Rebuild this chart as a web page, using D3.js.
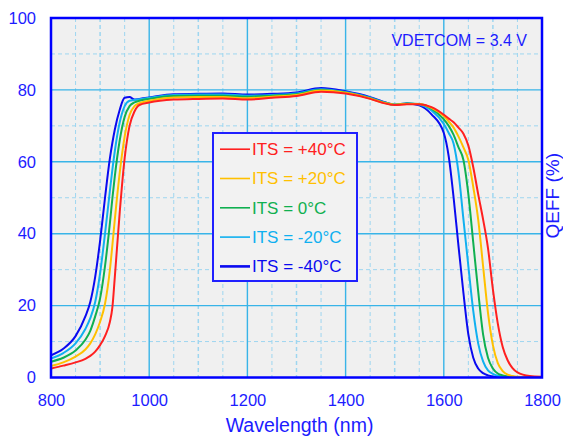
<!DOCTYPE html>
<html><head><meta charset="utf-8">
<script src="https://cdn.jsdelivr.net/npm/d3@7"></script>
<style>
body{margin:0;background:#fff}
svg{display:block}
text{font-family:"Liberation Sans",Arial,Helvetica,sans-serif}
</style>
</head><body>
<svg id="chart" width="563" height="437"></svg>
<script>
// ---- data ----
const wavelengths = [800, 825, 850, 870, 880, 890, 900, 910, 920, 925, 930, 940, 950, 960, 970, 980,
  1000, 1050, 1100, 1150, 1200, 1250, 1300, 1350, 1400, 1450, 1475, 1500, 1525,
  1550, 1575, 1600, 1610, 1620, 1630, 1640, 1650, 1660, 1670, 1680, 1690, 1700, 1710, 1720, 1730, 1740, 1750, 1775, 1800];

const itsM40 = [6.2, 8.0, 11.5, 17, 21, 28, 38, 50, 61, 65.3, 69, 74.5, 77.8, 78.0, 77.3, 77.5,
  77.9, 78.8, 78.9, 79.0, 78.7, 78.9, 79.3, 80.5, 79.6, 78.0, 76.8, 75.9, 76.2,
  75.7, 73.2, 68, 61.5, 50, 36.5, 23.5, 12, 5.5, 2.5, 1.2, 0.6, 0.3, 0.2, 0.1, 0.1, 0.1, 0.1, 0.1, 0.1];
const itsM20 = [5.3, 6.8, 9.5, 13.5, 16.5, 21, 29, 40, 52, 57.8, 63, 71, 75.5, 77.0, 77.2, 77.4,
  77.8, 78.6, 78.7, 78.7, 78.4, 78.6, 79.0, 80.2, 79.4, 77.8, 76.7, 75.9, 76.2,
  75.9, 74.3, 70.5, 68, 65, 57, 44, 31, 18.5, 9.5, 4.5, 2, 1, 0.5, 0.3, 0.2, 0.1, 0.1, 0.1, 0.1];
const its0 = [4.4, 5.5, 7.5, 10.5, 13, 17, 22, 31, 43, 49.8, 56, 66, 72.5, 75.5, 76.5, 77.0,
  77.5, 78.3, 78.4, 78.4, 78.1, 78.4, 78.8, 80.0, 79.3, 77.7, 76.6, 75.9, 76.2,
  76.1, 74.8, 71.8, 70, 67.5, 64, 60.5, 51, 37.5, 24, 12, 5.5, 2.5, 1.1, 0.6, 0.3, 0.2, 0.1, 0.1, 0.1];
const itsP20 = [3.2, 4.2, 5.8, 7.8, 9.5, 12, 15.5, 20.5, 30, 36.8, 44, 57, 67, 73, 75.5, 76.3,
  77.0, 77.9, 78.0, 78.0, 77.7, 78.1, 78.6, 79.8, 79.2, 77.6, 76.5, 75.9, 76.1,
  76.1, 75.0, 72.7, 71.2, 69.5, 67, 64, 60.5, 53, 44, 31, 18, 9, 4, 1.8, 0.8, 0.4, 0.2, 0.1, 0.1];
const itsP40 = [2.5, 3.3, 4.2, 5.2, 6.0, 7.2, 9.0, 11.5, 15.5, 19.5, 28, 46, 61, 70, 74, 75.8,
  76.5, 77.3, 77.5, 77.6, 77.3, 77.8, 78.3, 79.5, 79.0, 77.5, 76.4, 75.8, 76.0,
  76.0, 75.2, 73.1, 72, 71, 69.5, 67.8, 64.5, 58.5, 51, 44, 36, 24.5, 15, 8.5, 4.8, 2.6, 1.4, 0.4, 0.2];

const seriesNames = ["ITS = +40°C", "ITS = +20°C", "ITS = 0°C", "ITS = -20°C", "ITS = -40°C"];
const seriesColors = ["#ff2020", "#ffc000", "#10b050", "#10b0f0", "#0a0af0"];
const seriesValues = [itsP40, itsP20, its0, itsM20, itsM40];

const xTicks = [800, 1000, 1200, 1400, 1600, 1800];
const yTicks = [0, 20, 40, 60, 80, 100];
const xMinor = [850, 900, 950, 1050, 1100, 1150, 1250, 1300, 1350, 1450, 1500, 1550, 1650, 1700, 1750];
const yMinor = [10, 30, 50, 70, 90];
const xLabel = "Wavelength (nm)";
const yLabel = "QEFF (%)";
const annotation = "VDETCOM = 3.4 V";

// ---- layout ----
const svg = d3.select("#chart");
const L = 51, R = 542, T = 18, B = 377.5;
const x = d3.scaleLinear().domain([800, 1800]).range([L, R]);
const y = d3.scaleLinear().domain([0, 100]).range([B, T]);
const axisBlue = "#0000ff";
const textBlue = "#1c1cff";

svg.append("rect").attr("x", L).attr("y", T).attr("width", R - L).attr("height", B - T).attr("fill", "#f0f0f0");

const grid = svg.append("g");
// minor dashed
grid.selectAll("line.xm").data(xMinor).enter().append("line")
  .attr("x1", d => x(d)).attr("x2", d => x(d)).attr("y1", T).attr("y2", B)
  .attr("stroke", "#9ed6f0").attr("stroke-width", d => d % 100 === 0 ? 1.5 : 1)
  .attr("stroke-dasharray", "4,3");
grid.selectAll("line.ym").data(yMinor).enter().append("line")
  .attr("x1", L).attr("x2", R).attr("y1", d => y(d)).attr("y2", d => y(d))
  .attr("stroke", "#9ed6f0").attr("stroke-width", 1).attr("stroke-dasharray", "4,3");
// major solid
grid.selectAll("line.xM").data(xTicks.slice(1, -1)).enter().append("line")
  .attr("x1", d => x(d)).attr("x2", d => x(d)).attr("y1", T).attr("y2", B)
  .attr("stroke", "#38b4e8").attr("stroke-width", 1.4);
grid.selectAll("line.yM").data(yTicks.slice(1, -1)).enter().append("line")
  .attr("x1", L).attr("x2", R).attr("y1", d => y(d)).attr("y2", d => y(d))
  .attr("stroke", "#38b4e8").attr("stroke-width", 1.4);

// curves
svg.append("clipPath").attr("id", "clip").append("rect")
  .attr("x", L).attr("y", T).attr("width", R - L).attr("height", B - T);
const line = d3.line().x(d => x(d[0])).y(d => y(d[1])).curve(d3.curveMonotoneX);
const curves = svg.append("g").attr("clip-path", "url(#clip)");
for (let i = seriesValues.length - 1; i >= 0; i--) {
  const pts = wavelengths.map((w, j) => [w, seriesValues[i][j]]);
  curves.append("path").attr("d", line(pts)).attr("fill", "none")
    .attr("stroke", seriesColors[i]).attr("stroke-width", 2).attr("stroke-linejoin", "round");
}

// frame
svg.append("rect").attr("x", L).attr("y", T).attr("width", R - L).attr("height", B - T)
  .attr("fill", "none").attr("stroke", axisBlue).attr("stroke-width", 2.5);

// axes
const xAxis = svg.append("g").attr("transform", `translate(0,${B})`)
  .call(d3.axisBottom(x).tickValues(xTicks).tickSize(0).tickPadding(17).tickFormat(d3.format("d")));
xAxis.select(".domain").remove();
xAxis.selectAll("text").attr("fill", textBlue).attr("font-size", "16.5px")
  .attr("font-family", '"Liberation Sans",Arial,sans-serif');

const yAxis = svg.append("g").attr("transform", `translate(${L},0)`)
  .call(d3.axisLeft(y).tickValues(yTicks).tickSize(0).tickPadding(15).tickFormat(d3.format("d")));
yAxis.select(".domain").remove();
yAxis.selectAll("text").attr("fill", textBlue).attr("font-size", "16.5px")
  .attr("font-family", '"Liberation Sans",Arial,sans-serif');

svg.append("text").attr("x", (L + R) / 2 + 3).attr("y", 432).attr("text-anchor", "middle")
  .attr("fill", textBlue).attr("font-size", "19.5px").text(xLabel);
svg.append("text").attr("transform", `translate(558.5,${(T + B) / 2 - 2}) rotate(-90)`)
  .attr("text-anchor", "middle").attr("fill", textBlue).attr("font-size", "19px").text(yLabel);

svg.append("text").attr("x", 527).attr("y", 46).attr("text-anchor", "end")
  .attr("fill", textBlue).attr("font-size", "16px").text(annotation);

// legend
const lg = svg.append("g");
lg.append("rect").attr("x", 213).attr("y", 133).attr("width", 144).attr("height", 148)
  .attr("fill", "#f2f2f2").attr("stroke", "#2020ff").attr("stroke-width", 2);
seriesNames.forEach((name, i) => {
  const by = 155 + i * 29.3;
  lg.append("line").attr("x1", 220).attr("x2", 250).attr("y1", by - 5.8).attr("y2", by - 5.8)
    .attr("stroke", seriesColors[i]).attr("stroke-width", i === 4 ? 2.6 : 1.6);
  lg.append("text").attr("x", 252).attr("y", by).attr("fill", seriesColors[i])
    .attr("font-size", "17px").text(name);
});
</script>
</body></html>
